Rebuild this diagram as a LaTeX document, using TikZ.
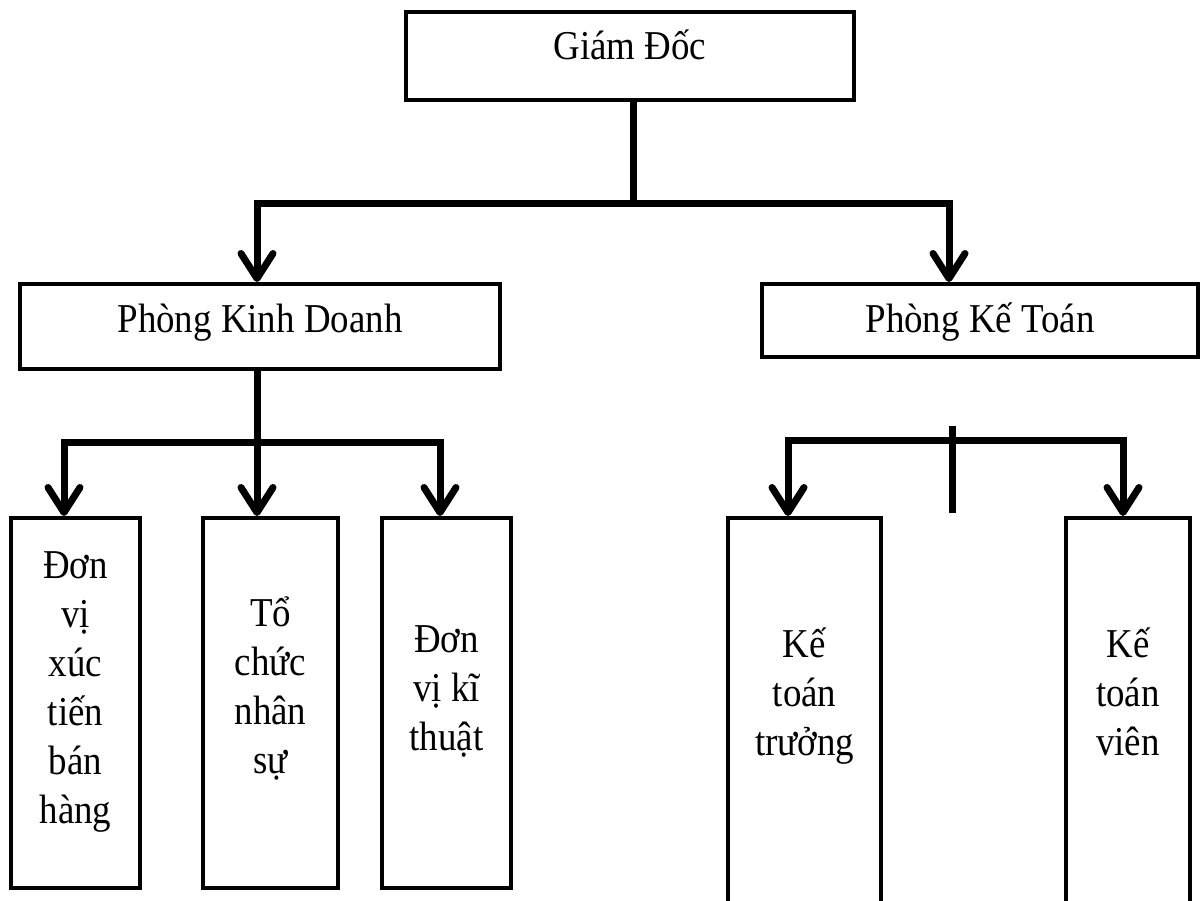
\documentclass[tikz,border=0pt]{standalone}
\usepackage{fontspec}
\setmainfont{Liberation Serif}[FakeStretch=0.9]
\usetikzlibrary{arrows.meta}

\begin{document}
\begin{tikzpicture}[x=1pt, y=-1pt,
    box/.style={draw, rectangle, line width=4pt, inner sep=0pt},
    lbl/.style={anchor=base, align=center, font=\fontsize{41}{49}\selectfont},
    link/.style={line width=7pt},
    arr/.style={link, -{Straight Barb[length=25pt,width=32pt,round]}}]
    \clip (0,0) rectangle (1202,901);
    \fill[white] (0,0) rectangle (1202,901);
    \node[box, minimum width=448pt, minimum height=88pt] (gd) at (630,56) {};
    \node[box, minimum width=480pt, minimum height=85pt] (pkd) at (260,326.5) {};
    \node[box, minimum width=436pt, minimum height=73pt] (pkt) at (980,320.5) {};
    \node[lbl] (tgd) at (630,60) {Giám Đốc};
    \node[lbl] (tpkd) at (260,333) {Phòng Kinh Doanh};
    \node[lbl] (tpkt) at (980,333) {Phòng Kế Toán};
    % the base of a text of several lines is its last line
    \foreach \n/\x/\w/\b/\t in {dv1/75.5/129/823/{Đơn\\vị\\xúc\\tiến\\bán\\hàng},
                                 dv2/270.5/135/773/{Tổ\\chức\\nhân\\sự},
                                 dv3/446.5/129/750/{Đơn\\vị kĩ\\thuật}} {
        \node[box, minimum width=\w pt, minimum height=370pt] (\n) at (\x,703) {};
        \node[lbl] (t\n) at (\x,\b) {\t};
    }
    \foreach \n/\x/\w/\t in {kt1/804.5/153/{Kế\\toán\\trưởng}, kt2/1128/124/{Kế\\toán\\viên}} {
        \node[box, minimum width=\w pt, minimum height=397pt] (\n) at (\x,716.5) {};
        \node[lbl] (t\n) at (\x,755) {\t};
    }
    % Giam Doc -> phong ban
    \coordinate (j0) at (633,204);
    \coordinate (j1) at (257,204);
    \coordinate (j2) at (949,204);
    \draw[link] (gd.south -| j0) -- (j0);
    \draw[arr] (j0) -| (pkd.north -| j1);
    \draw[arr] (j0) -| (pkt.north -| j2);
    % Phong Kinh Doanh
    \coordinate (k0) at (257,442);
    \coordinate (k1) at (64,442);
    \coordinate (k3) at (440,442);
    \draw[arr] (pkd.south -| k0) -- (dv2.north -| k0);
    \draw[arr] (k0) -| (dv1.north -| k1);
    \draw[arr] (k0) -| (dv3.north -| k3);
    % Phong Ke Toan
    \coordinate (m0) at (952,440);
    \coordinate (m0t) at (952,426);
    \coordinate (m0b) at (952,513);
    \coordinate (m1) at (788,440);
    \coordinate (m2) at (1123,440);
    \draw[link] (m0t) -- (m0b);
    \draw[arr] (m0) -| (kt1.north -| m1);
    \draw[arr] (m0) -| (kt2.north -| m2);
\end{tikzpicture}
\end{document}
